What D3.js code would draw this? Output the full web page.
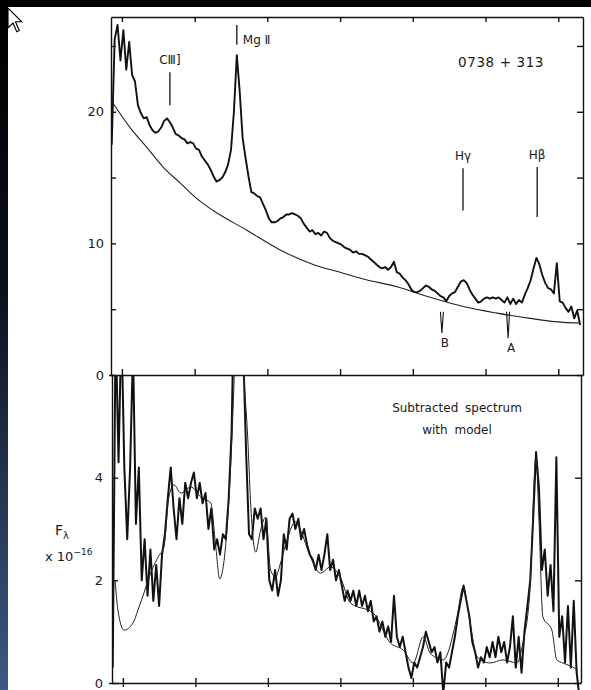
<!DOCTYPE html>
<html>
<head>
<meta charset="utf-8">
<script src="https://cdnjs.cloudflare.com/ajax/libs/d3/7.8.5/d3.min.js"></script>
<style>
  body { margin: 0; background: #fff; }
  svg { display: block; }
  text { font-family: "DejaVu Sans", sans-serif; fill: #1a1a1a; }
  .axis path, .axis line { stroke: #111; stroke-width: 1.4; }
  .axis text { font-family: "DejaVu Sans", sans-serif; font-size: 13px; fill: #1a1a1a; }
</style>
</head>
<body>
<script>
const width = 591;
const height = 690;

// rest wavelength grid (A) the scan was read at
const waveGrid = d3.range(1930, 5151, 20);

// observed spectrum, top panel
const fluxTop = [
  17.5, 25.5, 26.6, 23.9, 26.2, 23.2, 25.3, 22.8, 22.3, 20.5,
  19.9, 19.5, 19.6, 19.0, 18.6, 18.4, 18.5, 18.8, 19.3, 19.5,
  19.2, 18.8, 18.3, 18.2, 18.0, 17.9, 17.6, 17.7, 17.6, 17.2,
  17.1, 16.6, 16.3, 16.0, 15.6, 15.1, 14.7, 14.8, 15.0, 15.4,
  16.0, 17.1, 20.0, 24.3, 21.5, 18.0, 16.5, 15.1, 13.9, 13.8,
  13.6, 13.5, 13.0, 12.5, 11.9, 11.6, 11.6, 11.7, 11.9, 12.0,
  12.2, 12.2, 12.3, 12.2, 12.1, 11.9, 11.5, 11.2, 10.9, 11.0,
  10.7, 10.8, 10.6, 10.9, 10.8, 10.4, 10.2, 10.1, 10.0, 9.9,
  9.7, 9.6, 9.5, 9.3, 9.4, 9.2, 9.2, 9.1, 9.0, 8.8,
  8.6, 8.4, 8.2, 8.1, 8.2, 8.0, 8.2, 8.6, 7.8, 7.7,
  7.4, 7.2, 6.9, 6.5, 6.3, 6.3, 6.4, 6.6, 6.8, 6.7,
  6.5, 6.4, 6.2, 6.0, 5.9, 5.6, 6.0, 6.2, 6.3, 6.7,
  7.1, 7.2, 7.0, 6.5, 6.1, 5.8, 5.5, 5.6, 5.8, 5.9,
  5.8, 5.9, 5.8, 5.9, 5.7, 5.5, 5.9, 5.4, 5.8, 5.4,
  5.7, 5.5, 6.1, 6.6, 7.2, 8.1, 8.9, 8.4, 7.6, 7.0,
  6.6, 6.5, 6.2, 8.5, 5.6, 5.5, 5.1, 4.8, 5.2, 4.3,
  4.9, 3.8
];

// continuum model drawn under the top spectrum
const contWave = [1930, 2056, 2171, 2283, 2400, 2515, 2627, 2859, 3088, 3315, 3500, 3659, 3891, 4120, 4347, 4579, 4808, 5035, 5152];
const contFlux = [20.8, 18.8, 17.3, 15.8, 14.6, 13.4, 12.5, 11.0, 9.5, 8.4, 7.8, 7.3, 6.7, 5.9, 5.2, 4.7, 4.3, 4.0, 3.95];

// subtracted spectrum, bottom panel
const fluxSub = [
  0.3, 7.0, 4.3, 7.0, 4.2, 2.8, 4.2, 6.5, 3.1, 4.2,
  2.0, 2.8, 1.7, 2.6, 1.6, 2.3, 1.5, 2.5, 2.9, 3.6,
  4.2, 3.4, 2.8, 3.6, 3.1, 3.9, 3.6, 3.9, 4.1, 3.6,
  3.9, 3.5, 3.7, 3.0, 3.4, 2.6, 2.8, 2.5, 2.9, 2.8,
  3.6, 4.9, 8.0, 12.0, 9.5, 6.5, 4.5, 2.9, 2.8, 3.4,
  3.2, 3.4, 2.8, 3.2, 2.0, 1.8, 2.2, 1.7, 2.0, 2.9,
  2.6, 3.2, 3.3, 3.0, 3.2, 2.8, 3.0, 2.7, 2.5, 2.4,
  2.2, 2.5, 2.2, 2.5, 2.9, 2.2, 2.4, 2.0, 2.2, 1.9,
  1.6, 1.8, 1.6, 1.8, 1.5, 1.8, 1.5, 1.7, 1.4, 1.6,
  1.2, 1.3, 1.0, 1.2, 0.9, 1.1, 0.8, 1.7, 0.9, 0.7,
  0.9, 0.6, 0.3, 0.1, 0.4, 0.3, 0.5, 0.7, 1.0, 0.8,
  0.6, 0.7, 0.4, 0.6, -0.2, 0.4, 0.3, 0.6, 0.9, 1.3,
  1.6, 1.9, 1.6, 1.3, 0.8, 0.6, 0.3, 0.5, 0.4, 0.7,
  0.5, 0.8, 0.5, 0.9, 0.6, 0.8, 0.4, 0.7, 1.3, 0.3,
  0.9, 0.2, 1.0, 1.5, 2.0, 3.2, 4.5, 3.8, 2.2, 2.6,
  1.7, 2.3, 1.4, 4.4, 0.9, 1.3, 0.4, 1.5, 0.3, 1.6,
  0.2, -0.3
];

// fitted model, bottom panel
const modelWave = [1946, 1966, 2008, 2070, 2104, 2145, 2173, 2242, 2283, 2317, 2352, 2400, 2469, 2537, 2606, 2641, 2668, 2696, 2730, 2757, 2771, 2792, 2813, 2833, 2861, 2881, 2916, 2950, 2985, 3019, 3053, 3088, 3122, 3191, 3225, 3294, 3363, 3432, 3501, 3569, 3728, 3845, 3934, 4003, 4072, 4120, 4209, 4305, 4347, 4395, 4443, 4533, 4622, 4718, 4759, 4808, 4849, 4870, 4897, 4959, 4993, 5035, 5104, 5138];
const modelFlux = [2.0, 1.42, 1.03, 1.17, 1.42, 1.75, 2.0, 2.45, 2.65, 3.62, 3.86, 3.70, 3.82, 3.62, 3.51, 2.65, 2.03, 2.34, 3.51, 5.12, 6.3, 10.0, 7.5, 6.1, 4.79, 3.51, 2.55, 2.98, 3.23, 2.20, 2.07, 2.34, 2.69, 3.14, 2.98, 2.45, 2.14, 2.26, 2.05, 1.56, 1.36, 0.78, 0.64, 0.39, 0.90, 0.58, 0.45, 1.29, 1.87, 1.17, 0.51, 0.39, 0.45, 0.39, 0.78, 1.81, 4.4, 3.18, 1.29, 1.03, 0.45, 0.39, 0.31, 0.25];

// emission line marks (top panel)
const lineLabels = ["C\u2162]", "Mg \u2161", "H\u03b3", "H\u03b2"];
const lineWave = [2330, 2790, 4345, 4855];
const lineLow = [20.5, 25.1, 12.5, 12.0];
const lineHigh = [23.0, 26.6, 15.7, 15.8];

// absorption marks (top panel)
const absLabels = ["B", "A"];
const absWave = [4200, 4655];
const absLow = [3.2, 2.8];
const absHigh = [4.8, 4.8];

const waveTicks = [2000, 2500, 3000, 3500, 4000, 4500, 5000];
const topTicks = [0, 5, 10, 15, 20, 25];
const subTicks = [0, 2, 4];

let svg = d3.select("body")
    .append("svg")
    .attr("width", width)
    .attr("height", height);

let defs = svg.append("defs");
let grad = defs.append("linearGradient").attr("id", "edge").attr("x1", 0).attr("x2", 0).attr("y1", 0).attr("y2", 1);
grad.append("stop").attr("offset", "0%").attr("stop-color", "#000");
grad.append("stop").attr("offset", "40%").attr("stop-color", "#0a0f19");
grad.append("stop").attr("offset", "100%").attr("stop-color", "#3d5885");

svg.append("rect").attr("width", width).attr("height", height).attr("fill", "#fff");
svg.append("rect").attr("width", width).attr("height", 7).attr("fill", "#000");
svg.append("rect").attr("width", 8).attr("height", height).attr("fill", "url(#edge)");

let x = d3.scaleLinear().domain([1925, 5170]).range([111, 583]);
let xSub = d3.scaleLinear().domain([1925, 5160]).range([112, 581]);
let yTop = d3.scaleLinear().domain([0, 27.2]).range([375, 17]);
let ySub = d3.scaleLinear().domain([0, 6]).range([683, 375]);

defs.append("clipPath").attr("id", "clipTop")
    .append("rect").attr("x", 111).attr("y", 17).attr("width", 472).attr("height", 358);
defs.append("clipPath").attr("id", "clipSub")
    .append("rect").attr("x", 112).attr("y", 375).attr("width", 469).attr("height", 315);

// top panel frame
svg.append("g").attr("class", "axis").attr("transform", "translate(0,17)")
    .call(d3.axisTop(x).tickValues(waveTicks).tickSize(-5).tickSizeOuter(0).tickFormat(""));
svg.append("g").attr("class", "axis").attr("transform", "translate(0,375)")
    .call(d3.axisBottom(x).tickValues(waveTicks).tickSize(-6).tickSizeOuter(0).tickFormat(""));
svg.append("g").attr("class", "axis").attr("transform", "translate(111,0)")
    .call(d3.axisLeft(yTop).tickValues(topTicks).tickSize(-5).tickSizeOuter(0).tickPadding(7)
        .tickFormat(d => d % 10 ? "" : d));
svg.append("g").attr("class", "axis").attr("transform", "translate(583,0)")
    .call(d3.axisRight(yTop).tickValues(topTicks).tickSize(-6).tickSizeOuter(0).tickFormat(""));

// bottom panel frame
svg.append("g").attr("class", "axis").attr("transform", "translate(0,683)")
    .call(d3.axisBottom(xSub).tickValues(waveTicks).tickSize(-5).tickSizeOuter(0).tickFormat(""));
svg.append("g").attr("class", "axis").attr("transform", "translate(0,683)")
    .call(d3.axisBottom(xSub).tickValues(waveTicks).tickSize(4).tickSizeOuter(0).tickFormat(""))
    .select(".domain").remove();
svg.append("g").attr("class", "axis").attr("transform", "translate(112,0)")
    .call(d3.axisLeft(ySub).tickValues(subTicks).tickSize(-6).tickSizeOuter(3).tickPadding(9)
        .tickFormat(d3.format("d")));
svg.append("g").attr("class", "axis").attr("transform", "translate(581,0)")
    .call(d3.axisRight(ySub).tickValues(subTicks).tickSize(-6).tickSizeOuter(0).tickFormat(""));

let topPts = fluxTop.map((f, i) => [waveGrid[i], f]);
let subPts = fluxSub.map((f, i) => [waveGrid[i], f]);
let contPts = contWave.map((w, i) => [w, contFlux[i]]);
let modelPts = modelWave.map((w, i) => [w, modelFlux[i]]);

let lineTop = d3.line().x(d => x(d[0])).y(d => yTop(d[1]));
let lineSub = d3.line().x(d => xSub(d[0])).y(d => ySub(d[1]));

let topG = svg.append("g").attr("clip-path", "url(#clipTop)");
topG.append("path")
    .attr("d", d3.line().x(d => x(d[0])).y(d => yTop(d[1])).curve(d3.curveMonotoneX)(contPts))
    .attr("fill", "none").attr("stroke", "#222").attr("stroke-width", 1.1);
topG.append("path")
    .attr("d", lineTop(topPts))
    .attr("fill", "none").attr("stroke", "#111").attr("stroke-width", 1.9).attr("stroke-linejoin", "round");

let subG = svg.append("g").attr("clip-path", "url(#clipSub)");
subG.append("path")
    .attr("d", lineSub(subPts))
    .attr("fill", "none").attr("stroke", "#111").attr("stroke-width", 2).attr("stroke-linejoin", "round");
subG.append("path")
    .attr("d", d3.line().x(d => xSub(d[0])).y(d => ySub(d[1])).curve(d3.curveMonotoneX)(modelPts))
    .attr("fill", "none").attr("stroke", "#222").attr("stroke-width", 1);

// line identifications
lineWave.forEach((w, i) => {
    svg.append("line")
        .attr("x1", x(w)).attr("x2", x(w))
        .attr("y1", yTop(lineLow[i])).attr("y2", yTop(lineHigh[i]))
        .attr("stroke", "#111").attr("stroke-width", 1.3);
    let side = i === 1;
    svg.append("text")
        .attr("x", side ? x(w) + 6 : x(w))
        .attr("y", side ? yTop(lineLow[i]) - 1 : yTop(lineHigh[i]) - 8)
        .attr("text-anchor", side ? "start" : "middle")
        .attr("font-size", 12)
        .text(lineLabels[i]);
});

absWave.forEach((w, i) => {
    let cx = x(w), y0 = yTop(absHigh[i]), y1 = yTop(absLow[i]);
    svg.append("path")
        .attr("d", `M${cx - 1.5},${y0} L${cx},${y1} L${cx + 1.5},${y0}`)
        .attr("fill", "none").attr("stroke", "#111").attr("stroke-width", 1.1);
    svg.append("text")
        .attr("x", cx + 3).attr("y", y1 + 14)
        .attr("text-anchor", "middle").attr("font-size", 12)
        .text(absLabels[i]);
});

svg.append("text").attr("x", 458).attr("y", 67).attr("font-size", 13.5).attr("letter-spacing", 0.6)
    .text("0738 + 313");

svg.append("text").attr("x", 457).attr("y", 412).attr("text-anchor", "middle").attr("font-size", 12)
    .attr("word-spacing", 3).text("Subtracted spectrum");
svg.append("text").attr("x", 457).attr("y", 434).attr("text-anchor", "middle").attr("font-size", 12)
    .attr("word-spacing", 3).text("with model");

let fl = svg.append("text").attr("x", 55).attr("y", 535).attr("font-size", 14);
fl.append("tspan").text("F");
fl.append("tspan").attr("font-size", 10).attr("dy", 4).text("\u03bb");
let sc = svg.append("text").attr("x", 45).attr("y", 561).attr("font-size", 13);
sc.append("tspan").text("x 10");
sc.append("tspan").attr("font-size", 9).attr("dy", -6).text("\u221216");

// mouse pointer left in the screenshot
svg.append("path")
    .attr("d", "M0,0 L0,16 L4,12 L7,19 L9,18 L6,11 L11,11 Z")
    .attr("transform", "translate(8,8) scale(1.25)")
    .attr("fill", "#fff").attr("stroke", "#000").attr("stroke-width", 0.9);
</script>
</body>
</html>
